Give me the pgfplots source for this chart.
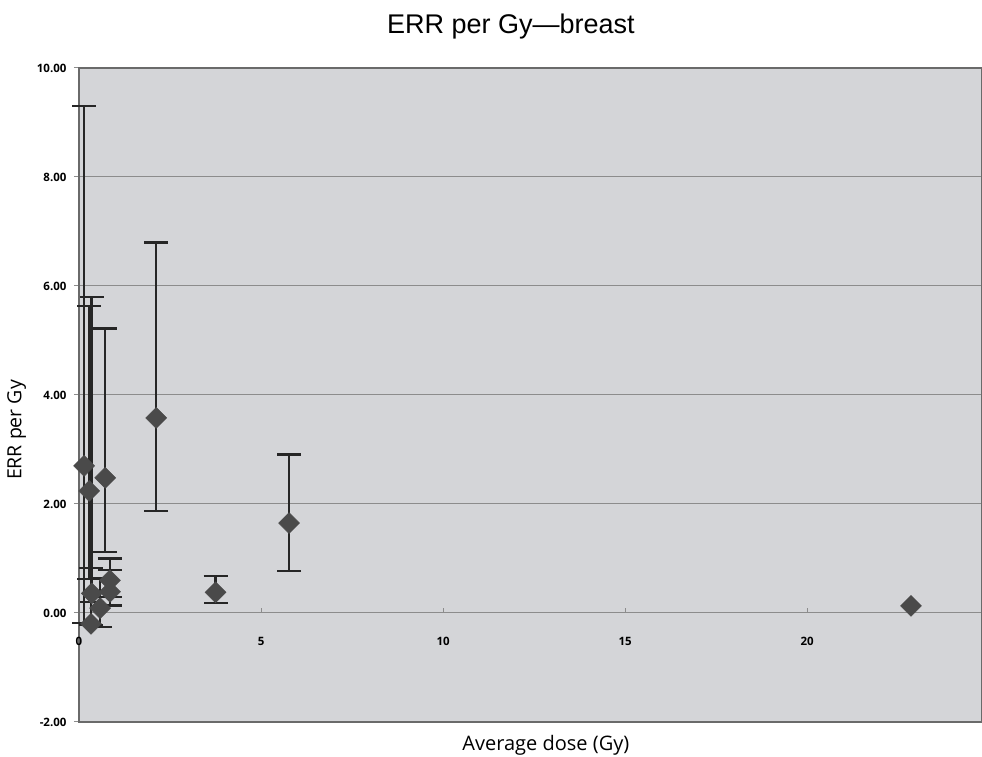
\documentclass[border=0pt]{standalone}
\usepackage{pgfplots}
\pgfplotsset{compat=1.18}
\usepackage{pgfplotstable}
\usepackage{fontspec}
\setmainfont{Open Sans}
\newfontfamily\titlefont{Liberation Sans}
\definecolor{bggray}{HTML}{D4D5D8}
\definecolor{markgray}{HTML}{4A4A4A}
\definecolor{gridgray}{HTML}{8C8C8C}
\definecolor{framegray}{HTML}{6A6A6A}

% x, y, upper error (+), lower error (-)
\pgfplotstableread{
x     y      ep     em
0.14  2.70   6.60   2.88
0.28  2.24   3.39   1.62
0.35  0.36   5.44   0.16
0.33  -0.20  1.03   0.02
0.58  0.09   0.55   0.35
0.72  2.48   2.74   1.36
0.85  0.60   0.40   0.31
0.85  0.39   0.40   0.25
2.12  3.58   3.22   1.71
3.75  0.38   0.30   0.20
5.77  1.65   1.26   0.88
}\errdata
\pgfplotstableread{
x     y
22.85 0.13
}\noerrdata

\begin{document}
\begin{tikzpicture}
\begin{axis}[
  at={(0,0)}, anchor=south west,
  scale only axis,
  width=903pt, height=654pt,
  xmin=0, xmax=24.8, ymin=-2, ymax=10,
  clip=false,
  xtick={0,5,10,15,20},
  ytick={-2,0,2,4,6,8,10},
  axis background/.style={fill=bggray},
  ymajorgrids,
  grid style={gridgray, line width=1pt},
  axis line style={framegray, line width=1.6pt},
  tick align=outside,
  major tick length=5pt,
  ytick style={gridgray, line width=1pt},
  xtick style={draw=none},
  /pgf/number format/assume math mode=true,
  yticklabel style={font=\fontsize{11.5}{13}\selectfont\bfseries, xshift=-4pt,
    /pgf/number format/.cd, fixed, fixed zerofill, precision=2},
  xticklabel style={font=\fontsize{11.5}{13}\selectfont\bfseries, yshift=93pt},
  xlabel={Average dose (Gy)},
  ylabel={ERR per Gy},
  xlabel style={font=\fontsize{20}{23}\selectfont, at={(axis description cs:0.517,-0.036)}, anchor=center},
  ylabel style={font=\fontsize{19.5}{22}\selectfont, at={(axis description cs:-0.069,0.4465)}, anchor=center},
]
\addplot[only marks, mark=none,
  error bars/.cd, y dir=both, y explicit,
  error bar style={black!85, line width=2.5pt},
  error mark options={rotate=90, mark size=12pt, line width=2.5pt, black!85}]
  table[x=x, y=y, y error plus=ep, y error minus=em] {\errdata};
\addplot[only marks, mark=square*, mark size=7.4pt,
  mark options={rotate=45, fill=markgray, draw=markgray, line width=0.5pt}]
  table[x=x, y=y] {\errdata};
\addplot[only marks, mark=square*, mark size=7.4pt,
  mark options={rotate=45, fill=markgray, draw=markgray, line width=0.5pt}]
  table[x=x, y=y] {\noerrdata};
\draw[gridgray, line width=1pt] (axis cs:5,0) -- ([yshift=5pt]axis cs:5,0);
\draw[gridgray, line width=1pt] (axis cs:10,0) -- ([yshift=5pt]axis cs:10,0);
\draw[gridgray, line width=1pt] (axis cs:15,0) -- ([yshift=5pt]axis cs:15,0);
\draw[gridgray, line width=1pt] (axis cs:20,0) -- ([yshift=5pt]axis cs:20,0);
\node[overlay, font=\fontsize{11.5}{13}\selectfont\bfseries] at (axis cs:25,-0.42) {25};
\end{axis}
\node[font=\titlefont\fontsize{27}{30}\selectfont] at (432pt,695pt) {ERR per Gy—breast};
\pgfresetboundingbox
\path[use as bounding box] (-79pt,-35pt) rectangle (903pt,722pt);
\end{tikzpicture}
\end{document}
